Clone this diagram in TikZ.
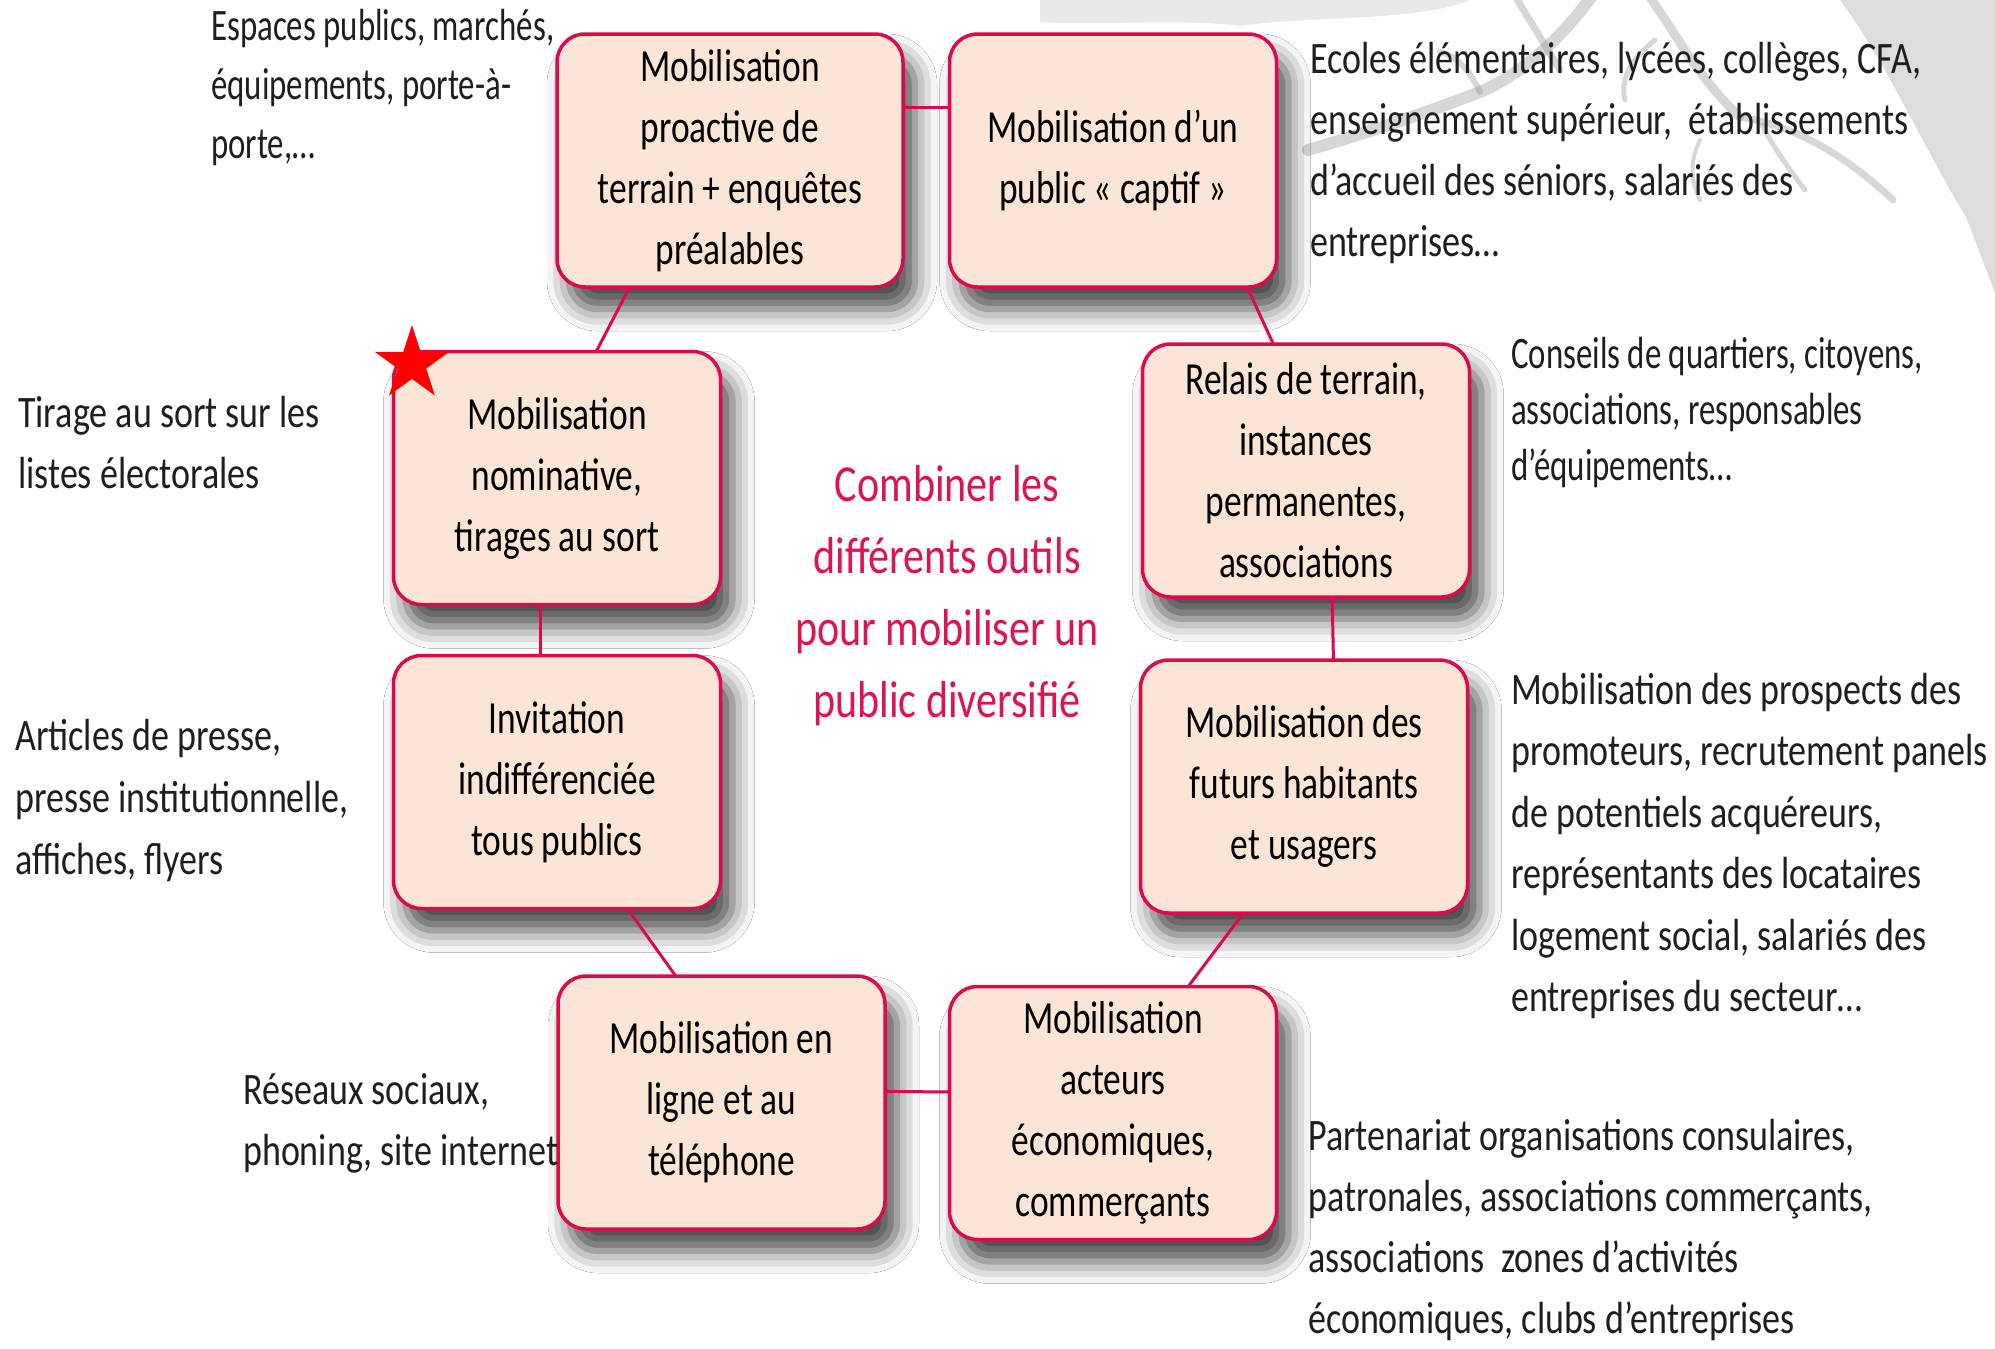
\documentclass[tikz,border=0pt]{standalone}
\usepackage{fontspec}
\setmainfont{Carlito}
\newfontfamily\boxfont[FakeStretch=0.77]{Carlito}
\newfontfamily\sidefont[FakeStretch=0.80]{Carlito}
\newfontfamily\sidefontA[FakeStretch=0.73]{Carlito}
\newfontfamily\sidefontB[FakeStretch=0.73]{Carlito}
\newfontfamily\centfont[FakeStretch=0.81]{Carlito}
\usetikzlibrary{shapes.geometric,shadows.blur,calc}
\definecolor{bord}{HTML}{DC0A4B}
\definecolor{boxfill}{HTML}{FBE5D7}
\definecolor{centcol}{HTML}{DC1450}
\definecolor{sidecol}{HTML}{1E1E1E}
\definecolor{treecol}{HTML}{9C9C9C}
\tikzset{
  mbox/.style={draw=bord, line width=3.5pt, fill=boxfill, rounded corners=28pt,
    minimum width=327pt, minimum height=253pt, align=center, inner sep=0pt, outer sep=0pt,
    font=\boxfont\fontsize{46pt}{61pt}\selectfont,
    blur shadow={shadow xshift=12pt, shadow yshift=-22pt, shadow blur radius=22pt, shadow opacity=72}},
  conn/.style={draw=bord, line width=3pt},
  sidetxt/.style={anchor=west, align=left, inner sep=0pt, text=sidecol,
    font=\sidefont\fontsize{45pt}{61pt}\selectfont},
  centtxt/.style={align=center, inner sep=0pt, text=centcol,
    font=\centfont\fontsize{52pt}{72pt}\selectfont},
  branch/.style={draw=treecol, line cap=round, opacity=0.4}
}
\begin{document}
\begin{tikzpicture}[x=1pt,y=-1pt]
\useasboundingbox (0,0) rectangle (1995,1349);
\fill[white] (0,0) rectangle (1995,1349);
% background tree
\fill[treecol, opacity=0.22] (1040,0) -- (1470,0) .. controls (1420,22) and (1300,16) .. (1240,26) .. controls (1180,18) and (1100,26) .. (1040,22) -- cycle;
\fill[treecol, opacity=0.35] (1840,0) .. controls (1885,60) and (1925,150) .. (1966,217) -- (1995,293) -- (1995,0) -- cycle;
\draw[branch, line width=12pt] (1592,-4) .. controls (1560,40) and (1520,75) .. (1480,92) .. controls (1420,115) and (1360,135) .. (1308,150);
\draw[branch, line width=6pt] (1480,92) .. controls (1470,70) and (1455,55) .. (1440,52);
\draw[branch, line width=7pt] (1515,-4) -- (1560,70);
\draw[branch, line width=9pt] (1649,-4) .. controls (1680,40) and (1700,80) .. (1740,117);
\draw[branch, line width=7pt] (1740,117) .. controls (1790,125) and (1840,150) .. (1893,200);
\draw[branch, line width=5pt] (1762,125) .. controls (1775,150) and (1790,170) .. (1805,190);
\draw[branch, line width=5pt] (1655,40) .. controls (1630,60) and (1620,80) .. (1625,100);
\draw[branch, line width=4pt] (1700,140) .. controls (1690,160) and (1690,180) .. (1700,200);
% boxes
\node[mbox, minimum width=346pt] (b1) at (730,160.5) {Mobilisation\\proactive de\\terrain + enquêtes\\préalables};
\node[mbox] (b2) at (1113,160.5) {Mobilisation d’un\\public «~captif~»};
\node[mbox] (b3) at (557,478) {Mobilisation\\nominative,\\tirages au sort};
\node[mbox] (b4) at (1306,470.5) {Relais de terrain,\\instances\\permanentes,\\associations};
\node[mbox] (b5) at (557,782) {Invitation\\indifférenciée\\tous publics};
\node[mbox] (b6) at (1304,786.5) {Mobilisation des\\futurs habitants\\et usagers};
\node[mbox] (b7) at (721.5,1102.5) {Mobilisation en\\ligne et au\\téléphone};
\node[mbox] (b8) at (1113,1113) {Mobilisation\\acteurs\\économiques,\\commerçants};
% connectors
\draw[conn] ($(b1.north east)!0.29!(b1.south east)$) -- ($(b2.north west)!0.29!(b2.south west)$);
\draw[conn] ($(b1.south west)!0.21!(b1.south east)$) -- ($(b3.north west)!0.62!(b3.north east)$);
\draw[conn] ($(b2.south west)!0.91!(b2.south east)$) -- ($(b4.north west)!0.40!(b4.north east)$);
\draw[conn] ($(b3.south west)!0.45!(b3.south east)$) -- ($(b5.north west)!0.45!(b5.north east)$);
\draw[conn] ($(b4.south west)!0.58!(b4.south east)$) -- ($(b6.north west)!0.59!(b6.north east)$);
\draw[conn] ($(b5.south west)!0.715!(b5.south east)$) -- ($(b7.north west)!0.36!(b7.north east)$);
\draw[conn] ($(b6.south west)!0.315!(b6.south east)$) -- ($(b8.north west)!0.73!(b8.north east)$);
\draw[conn] ($(b7.north east)!0.456!(b7.south east)$) -- ($(b8.north west)!0.417!(b8.south west)$);
% star
\node[star, star points=5, star point ratio=2.618, minimum size=78pt, fill=red, inner sep=0pt] (star) at (412,364) {};
% centre text
\node[centtxt] (ct) at (947,596) {Combiner les\\différents outils\\pour mobiliser un\\public diversifié};
% side texts
\node[sidetxt, font=\sidefontA\fontsize{45pt}{59pt}\selectfont] (t1) at (211,88) {Espaces publics, marchés,\\équipements, porte-à-\\porte,…};
\node[sidetxt] (t2) at (1310,153) {Ecoles élémentaires, lycées, collèges, CFA,\\enseignement supérieur,~ établissements\\d’accueil des séniors, salariés des\\entreprises…};
\node[sidetxt] (t3) at (18,443) {Tirage au sort sur les\\listes électorales};
\node[sidetxt, font=\sidefontB\fontsize{45pt}{56pt}\selectfont] (t4) at (1511,412) {Conseils de quartiers, citoyens,\\associations, responsables\\d’équipements…};
\node[sidetxt, font=\sidefont\fontsize{45pt}{62pt}\selectfont] (t5) at (15,800) {Articles de presse,\\presse institutionnelle,\\affiches, flyers};
\node[sidetxt, font=\sidefont\fontsize{45pt}{61.5pt}\selectfont] (t6) at (1511,846) {Mobilisation des prospects des\\promoteurs, recrutement panels\\de potentiels acquéreurs,\\représentants des locataires\\logement social, salariés des\\entreprises du secteur…};
\node[sidetxt] (t7) at (243,1123) {Réseaux sociaux,\\phoning, site internet};
\node[sidetxt] (t8) at (1308,1230) {Partenariat organisations consulaires,\\patronales, associations commerçants,\\associations~ zones d’activités\\économiques, clubs d’entreprises};
\end{tikzpicture}
\end{document}
